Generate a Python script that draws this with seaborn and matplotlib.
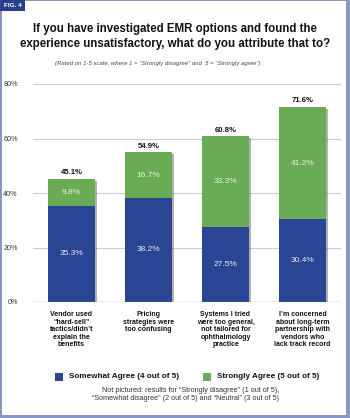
import numpy as np
import pandas as pd
import matplotlib
matplotlib.use('Agg')
import matplotlib.pyplot as plt
import matplotlib.patheffects as pe
from matplotlib.patches import Rectangle
import seaborn as sns

sns.set_style('white')
plt.rcParams['font.family'] = ['Liberation Sans', 'DejaVu Sans']

# data
categories = ['Vendor used\n\u201chard-sell\u201d\ntactics/didn\u2019t\nexplain the\nbenefits',
              'Pricing\nstrategies were\ntoo confusing',
              'Systems I tried\nwere too general,\nnot tailored for\nophthalmology\npractice',
              'I\u2019m concerned\nabout long-term\npartnership with\nvendors who\nlack track record']
somewhat = [35.3, 38.2, 27.5, 30.4]
strongly = [9.8, 16.7, 33.3, 41.2]
totals = [45.1, 54.9, 60.8, 71.6]
yticks = [0, 20, 40, 60, 80]

BLUE = '#2a4594'
GREEN = '#6aab55'
FRAME = '#8a96c6'

W, H = 350, 418
fig = plt.figure(figsize=(W / 100, H / 100), dpi=100)
fig.patch.set_facecolor('white')

def px(x, y):
    return x / W, 1 - y / H

ax = fig.add_axes([33 / W, 1 - 302 / H, (341 - 33) / W, (302 - 84) / H])

df = pd.DataFrame({'cat': categories, 'total': totals, 'somewhat': somewhat})
shadow = [pe.SimplePatchShadow(offset=(1.8, -1.2), shadow_rgbFace='#555555', alpha=0.45), pe.Normal()]

sns.barplot(data=df, x='cat', y='total', color=GREEN, saturation=1, width=0.6,
            linewidth=0, edgecolor='none', ax=ax)
for p in ax.patches:
    p.set_path_effects(shadow)
sns.barplot(data=df, x='cat', y='somewhat', color=BLUE, saturation=1, width=0.6,
            linewidth=0, edgecolor='none', ax=ax)

ax.set_ylim(0, 80)
ax.set_xlim(-0.5, 3.5)
ax.set_yticks(yticks)
ax.set_yticklabels([f'{t}%' for t in yticks], fontsize=5.2, color='#333333')
ax.tick_params(axis='y', length=0, pad=11)
ax.set_xticks([])
ax.set_xlabel('')
ax.set_ylabel('')
for s in ax.spines.values():
    s.set_visible(False)
for t in yticks[1:]:
    ax.axhline(t, color='#cccccc', lw=0.8, zorder=0)
ax.axhline(0, color='#777777', lw=0.9, zorder=5)
ax.set_axisbelow(True)

for i in range(len(categories)):
    ax.text(i, somewhat[i] / 2, f'{somewhat[i]}%', ha='center', va='center',
            fontsize=6.0, color='#e6e9f2')
    ax.text(i, somewhat[i] + strongly[i] / 2, f'{strongly[i]}%', ha='center', va='center',
            fontsize=6.0, color='#e6f0e0')
    ax.text(i, totals[i] + 1.0, f'{totals[i]}%', ha='center', va='bottom',
            fontsize=5.6, fontweight='bold', color='#111111')
    ax.text(i, -3.3, categories[i], ha='center', va='top', fontsize=5.0,
            fontweight='bold', color='#111111', linespacing=1.12)

# titles
fig.text(*px(175, 29), 'If you have investigated EMR options and found the',
         ha='center', va='center', fontsize=8.3, fontweight='bold', color='#111111')
fig.text(*px(175, 44), 'experience unsatisfactory, what do you attribute that to?',
         ha='center', va='center', fontsize=8.3, fontweight='bold', color='#111111')
fig.text(*px(158, 64), '(Rated on 1-5 scale, where 1 = \u201cStrongly disagree\u201d and  5 = \u201cStrongly agree\u201d)',
         ha='center', va='center', fontsize=4.3, style='italic', color='#444444')

# legend
fig.patches.append(Rectangle(px(55, 381), 8 / W, 8 / H, transform=fig.transFigure,
                             facecolor=BLUE, edgecolor='none'))
fig.text(*px(69, 377), 'Somewhat Agree (4 out of 5)', ha='left', va='center',
         fontsize=5.9, fontweight='bold', color='#111111')
fig.patches.append(Rectangle(px(203, 381), 8 / W, 8 / H, transform=fig.transFigure,
                             facecolor=GREEN, edgecolor='none'))
fig.text(*px(217, 377), 'Strongly Agree (5 out of 5)', ha='left', va='center',
         fontsize=5.9, fontweight='bold', color='#111111')
fig.text(*px(191, 390), 'Not pictured: results for \u201cStrongly disagree\u201d (1 out of 5),',
         ha='center', va='center', fontsize=5.2, color='#333333')
fig.text(*px(185, 399), '\u201cSomewhat disagree\u201d (2 out of 5) and \u201cNeutral\u201d (3 out of 5)',
         ha='center', va='center', fontsize=5.2, color='#333333')

# frame and figure tag
for x0, y0, w, h in [(0, 0, 2, H), (W - 4, 0, 4, H), (0, H - 3, W, 3), (0, 0, W, 1)]:
    fig.patches.append(Rectangle((x0 / W, 1 - (y0 + h) / H), w / W, h / H,
                                 transform=fig.transFigure, facecolor=FRAME, edgecolor='none'))
fig.patches.append(Rectangle(px(0, 11), 25 / W, 11 / H, transform=fig.transFigure,
                             facecolor='#2b3f8c', edgecolor='none'))
fig.text(*px(12.5, 5.5), 'FIG. 4', ha='center', va='center', fontsize=4.6,
         fontweight='bold', color='white')

fig.savefig('out.png', dpi=100)
